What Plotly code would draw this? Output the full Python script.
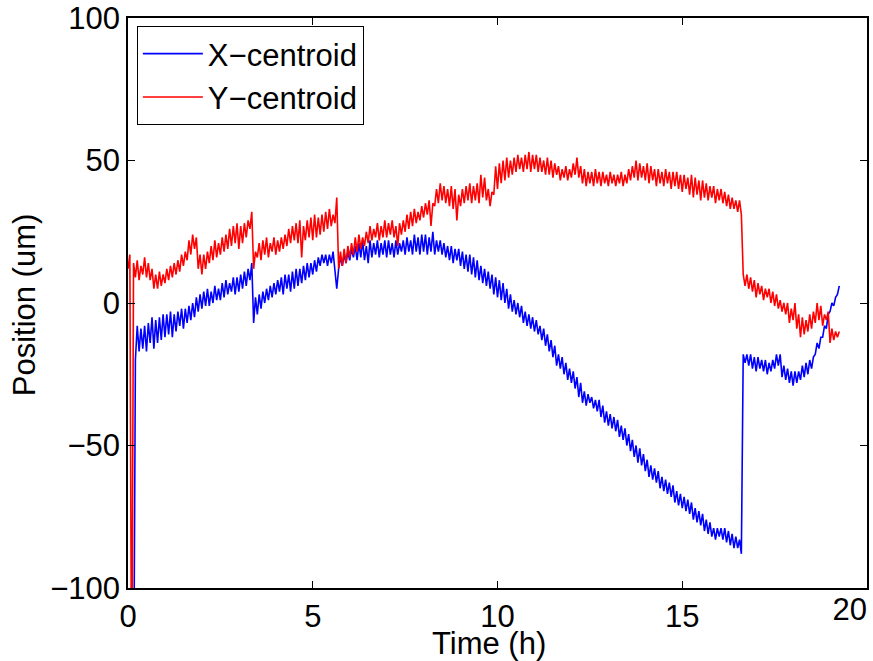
import plotly.graph_objects as go

# Sampling step of the recordings (hours)
STEP = 0.05
RED_START = 0.0
BLUE_START = 0.15

# Y-centroid values (um), one row per hour
y_centroid = [
    12, 17, -150, 14, 9, 15, 8, 13, 10, 16, 9, 14, 8, 12, 5, 10, 5, 11, 6, 10,
    7, 12, 8, 13, 9, 14, 10, 15, 11, 17, 13, 18, 15, 22, 17, 24, 19, 23, 12, 17,
    10, 17, 12, 18, 14, 20, 15, 22, 16, 21, 17, 23, 18, 24, 19, 26, 20, 27, 21, 28,
    19, 27, 21, 28, 23, 29, 26, 32, 12, 18, 16, 21, 15, 22, 17, 23, 16, 21, 18, 23,
    17, 22, 18, 23, 19, 24, 20, 26, 21, 27, 22, 28, 21, 29, 16, 27, 22, 29, 23, 30,
    22, 31, 23, 30, 24, 31, 25, 32, 26, 33, 27, 31, 28, 37, 12, 18, 13, 19, 14, 20,
    16, 21, 17, 23, 18, 24, 19, 23, 20, 25, 21, 27, 22, 26, 23, 28, 22, 27, 23, 29,
    23, 28, 24, 29, 23, 27, 20, 28, 24, 29, 25, 31, 26, 32, 27, 33, 28, 32, 29, 34,
    30, 35, 31, 36, 27, 35, 34, 40, 35, 42, 36, 41, 35, 40, 34, 41, 33, 40, 29, 38,
    34, 40, 35, 41, 36, 42, 35, 41, 36, 42, 35, 45, 37, 44, 36, 40, 34, 39, 38, 48,
    40, 49, 42, 50, 43, 51, 44, 50, 45, 51, 46, 52, 47, 51, 46, 52, 47, 53, 46, 52,
    47, 52, 46, 51, 46, 50, 45, 51, 45, 50, 44, 49, 45, 48, 43, 47, 44, 48, 43, 47,
    44, 49, 45, 51, 44, 48, 42, 47, 41, 46, 42, 46, 41, 47, 42, 46, 41, 46, 42, 45,
    41, 46, 42, 45, 41, 45, 42, 46, 41, 45, 42, 47, 43, 48, 44, 50, 43, 49, 44, 48,
    43, 49, 42, 48, 43, 47, 41, 47, 42, 46, 41, 47, 42, 46, 40, 46, 41, 46, 40, 45,
    39, 45, 40, 44, 38, 45, 37, 44, 38, 43, 36, 43, 37, 42, 36, 41, 37, 41, 35, 40,
    36, 40, 35, 39, 34, 38, 33, 37, 33, 36, 32, 36, 31, 10, 6, 10, 5, 9, 4, 8,
    2, 7, 3, 6, 1, 5, 2, 5, 0, 4, -1, 3, -2, 1, -3, 0, -4, 0, -7, -2,
    -6, 0, -9, -4, -12, -5, -11, -6, -10, -4, -9, -3, -7, 0, -6, -1, -8, -4, -6, -3,
    -14, -9, -13, -10, -12, -10,
]

# X-centroid values (um), starting at 0.15 h
x_centroid = [
    -150, -20, -8, -17, -9, -16, -8, -17, -7, -14, -5, -16, -6, -14, -5, -13, -4,
    -12, -4, -11, -3, -12, -4, -10, -3, -8, -2, -9, -2, -7, -1, -6, 0, -5, 2, -3, 3,
    -2, 4, -1, 5, -1, 4, 0, 6, 1, 5, 1, 7, 2, 8, 3, 7, 4, 9, 3, 9,
    4, 10, 5, 11, 6, 12, 8, 14, -7, 2, -4, 3, -2, 4, 0, 5, 1, 6, 2, 7,
    3, 8, 4, 9, 3, 10, 5, 10, 4, 11, 5, 12, 6, 12, 7, 13, 8, 14, 9, 14,
    10, 15, 11, 16, 13, 17, 14, 17, 13, 17, 14, 18, 12, 5, 12, 16, 13, 17, 14, 18,
    15, 19, 16, 20, 15, 21, 16, 22, 15, 20, 14, 22, 16, 21, 17, 22, 16, 21, 17, 22,
    16, 22, 17, 21, 16, 22, 17, 21, 18, 22, 17, 23, 18, 22, 17, 24, 18, 23, 17, 24,
    18, 24, 17, 23, 18, 25, 17, 22, 18, 22, 17, 21, 16, 20, 15, 20, 14, 19, 15, 19,
    13, 18, 12, 17, 11, 17, 10, 16, 9, 15, 8, 13, 7, 12, 6, 11, 5, 10, 3, 9,
    2, 8, 1, 7, 0, 5, -2, 3, -3, 1, -4, 0, -5, -1, -7, -3, -8, -4, -9, -5,
    -10, -6, -11, -8, -13, -9, -15, -11, -17, -13, -19, -15, -22, -18, -23, -19, -25, -21, -27, -23,
    -28, -24, -30, -26, -33, -28, -35, -31, -36, -32, -35, -33, -37, -34, -38, -34, -40, -36, -42, -38,
    -43, -39, -44, -40, -45, -41, -47, -43, -48, -44, -50, -46, -52, -48, -54, -50, -56, -51, -57, -53,
    -59, -55, -61, -57, -62, -58, -63, -59, -65, -61, -66, -62, -67, -63, -68, -64, -70, -66, -71, -67,
    -72, -68, -73, -69, -74, -70, -76, -72, -77, -73, -78, -74, -80, -76, -81, -77, -82, -79, -83, -79,
    -82, -79, -83, -79, -84, -80, -85, -81, -86, -82, -86, -83, -88, -18, -21, -18, -22, -18, -23, -19,
    -24, -19, -23, -20, -24, -20, -25, -21, -24, -20, -23, -18, -22, -18, -26, -22, -27, -23, -28, -24,
    -29, -24, -28, -24, -27, -22, -26, -21, -25, -20, -23, -19, -18, -14, -16, -12, -12, -8, -9, -4,
    -3, 0, -1, 2, 3, 6,
]

x_ticks = [0, 5, 10, 15, 20]
x_ticktext = ["0", "5", "10", "15", ""]
x_last_tick = [20]
x_last_text = ["20"]
y_ticks = [-100, -50, 0, 50, 100]
x_title = "Time (h)"
y_title = "Position (um)"

t_red = [round(RED_START + i * STEP, 2) for i in range(len(y_centroid))]
t_blue = [round(BLUE_START + i * STEP, 2) for i in range(len(x_centroid))]

FONT = "Liberation Sans, Arial, Helvetica, sans-serif"
FS = 31

fig = go.Figure()
fig.add_trace(go.Scatter(x=t_blue, y=x_centroid, mode="lines", name="X\u2212centroid",
                         line=dict(color="#0000ff", width=1.6)))
fig.add_trace(go.Scatter(x=t_red, y=y_centroid, mode="lines", name="Y\u2212centroid",
                         line=dict(color="#ff0000", width=1.6)))

axis_common = dict(showline=True, linecolor="black", linewidth=1.5, mirror="ticks",
                   ticks="inside", ticklen=7, tickwidth=1, tickcolor="black",
                   showgrid=False, zeroline=False, automargin=False,
                   tickfont=dict(size=FS, color="black", family=FONT))

fig.update_layout(
    width=873, height=661, autosize=False,
    margin=dict(l=128, r=6, t=18, b=73, autoexpand=False),
    plot_bgcolor="white", paper_bgcolor="white",
    font=dict(family=FONT, size=FS, color="black"),
    xaxis=dict(range=[0, 20], tickvals=x_ticks, ticktext=x_ticktext, **axis_common),
    # overlay axis that only carries the last tick label, drawn left of its tick (as MATLAB does)
    xaxis2=dict(range=[0, 20], overlaying="x", side="bottom", anchor="y",
                tickvals=x_last_tick, ticktext=x_last_text, ticks="",
                ticklabelposition="outside left", showline=False, showgrid=False,
                zeroline=False, automargin=False,
                tickfont=dict(size=FS, color="black", family=FONT)),
    yaxis=dict(range=[-100, 100], tickvals=y_ticks, ticklabeloverflow="allow", **axis_common),
    legend=dict(x=0.012, y=0.986, xanchor="left", yanchor="top",
                bordercolor="black", borderwidth=1, bgcolor="white",
                font=dict(size=FS, color="black", family=FONT), tracegroupgap=0,
                itemwidth=60),
    showlegend=True,
    annotations=[
        dict(text=x_title, xref="paper", yref="paper", x=0.4885, y=-0.097,
             xanchor="center", yanchor="middle", showarrow=False,
             font=dict(size=FS, color="black", family=FONT)),
        dict(text=y_title, xref="paper", yref="paper", x=-0.139, y=0.4965,
             xanchor="center", yanchor="middle", showarrow=False, textangle=-90,
             font=dict(size=FS, color="black", family=FONT)),
    ],
)
# an invisible helper trace so the overlay axis is drawn
fig.add_trace(go.Scatter(x=x_last_tick, y=[None], xaxis="x2", yaxis="y",
                         showlegend=False, hoverinfo="skip", mode="lines"))

fig.write_html("out.html", config={"displayModeBar": False},
               post_script="document.body.style.margin='0px';")
